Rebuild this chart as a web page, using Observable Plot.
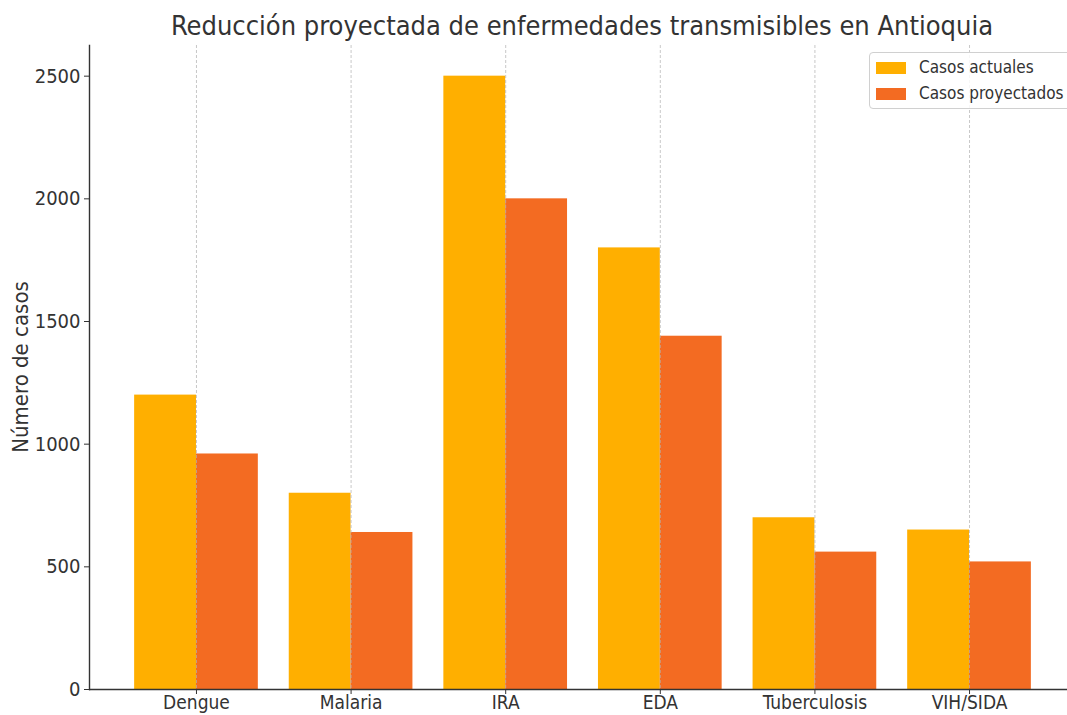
<!DOCTYPE html>
<html>
<head>
<meta charset="utf-8">
<script src="https://cdn.jsdelivr.net/npm/d3@7"></script>
<script src="https://cdn.jsdelivr.net/npm/@observablehq/plot@0.6"></script>
<style>
  html, body { margin: 0; padding: 0; background: white; overflow: hidden; }
  #wrap { position: relative; width: 1067px; height: 715px; overflow: hidden;
          font-family: "DejaVu Sans Condensed", "DejaVu Sans", sans-serif; color: #333; }
  #title { position: absolute; left: 0; top: 12px; width: 1164px; text-align: center;
           font-size: 27px; line-height: 28px; white-space: nowrap; }
  #ylabel { position: absolute; left: 20px; top: 367px; transform: translate(-50%, -50%) rotate(-90deg);
            font-size: 22px; white-space: nowrap; }
  #legend { position: absolute; left: 869px; top: 52px; width: 205px; height: 57px;
            border: 1px solid #d0d0d0; border-radius: 4px; background: rgba(255,255,255,0.85); box-sizing: border-box; }
  .row { position: absolute; left: 0; height: 26px; width: 100%; }
  .sw { position: absolute; left: 6px; top: 9px; width: 30px; height: 12px; }
  .lt { position: absolute; left: 49px; top: 4px; font-size: 17px; line-height: 20px; white-space: nowrap; }
</style>
</head>
<body>
<div id="wrap">
  <div id="chart"></div>
  <div id="title">Reducción proyectada de enfermedades transmisibles en Antioquia</div>
  <div id="ylabel">Número de casos</div>
  <div id="legend"></div>
</div>
<script>
const categories = ["Dengue", "Malaria", "IRA", "EDA", "Tuberculosis", "VIH/SIDA"];
const casosActuales = [1200, 800, 2500, 1800, 700, 650];
const casosProyectados = [960, 640, 2000, 1440, 560, 520];
const seriesNames = ["Casos actuales", "Casos proyectados"];
const seriesColors = ["#FFAF00", "#F36B22"];
const yTicks = [0, 500, 1000, 1500, 2000, 2500];

const table = categories.map((c, i) => ({cat: c, actual: casosActuales[i], proj: casosProyectados[i]}));

const xOpts = {type: "band", domain: categories, range: [89.3, 1075.7], paddingInner: 0.2, paddingOuter: 0.29, align: 0.5, round: false};
const bw = Plot.scale({x: xOpts}).bandwidth;

const chart = Plot.plot({
  width: 1067, height: 715,
  marginLeft: 89, marginRight: 0, marginTop: 45, marginBottom: 26,
  style: {fontFamily: '"DejaVu Sans Condensed", "DejaVu Sans", sans-serif', fontSize: "20px", color: "#333", background: "white", overflow: "visible"},
  x: {...xOpts, label: null},
  y: {domain: [0, 2625], label: null},
  marks: [
    Plot.barY(table, {x: "cat", y: "actual", fill: seriesColors[0], insetLeft: 0, insetRight: bw / 2}),
    Plot.barY(table, {x: "cat", y: "proj", fill: seriesColors[1], insetLeft: bw / 2, insetRight: 0}),
    Plot.gridX({stroke: "#b0b0b0", strokeOpacity: 0.7, strokeWidth: 1, strokeDasharray: "3,2"}),
    Plot.axisX({tickSize: 5, tickPadding: 1, stroke: "#333", fill: "#333", fontSize: 19}),
    Plot.axisY({ticks: yTicks, tickFormat: d3.format("d"), tickSize: 5, tickPadding: 4, stroke: "#333", fill: "#333"}),
    Plot.ruleY([0], {stroke: "#333", strokeWidth: 1.4}),
    Plot.frame({anchor: "left", stroke: "#333", strokeWidth: 1.4})
  ]
});
document.getElementById("chart").appendChild(chart);

const legend = document.getElementById("legend");
seriesNames.forEach((name, i) => {
  const row = document.createElement("div");
  row.className = "row";
  row.style.top = (i * 26) + "px";
  row.innerHTML = `<div class="sw" style="background:${seriesColors[i]}"></div><div class="lt">${name}</div>`;
  legend.appendChild(row);
});
</script>
</body>
</html>
